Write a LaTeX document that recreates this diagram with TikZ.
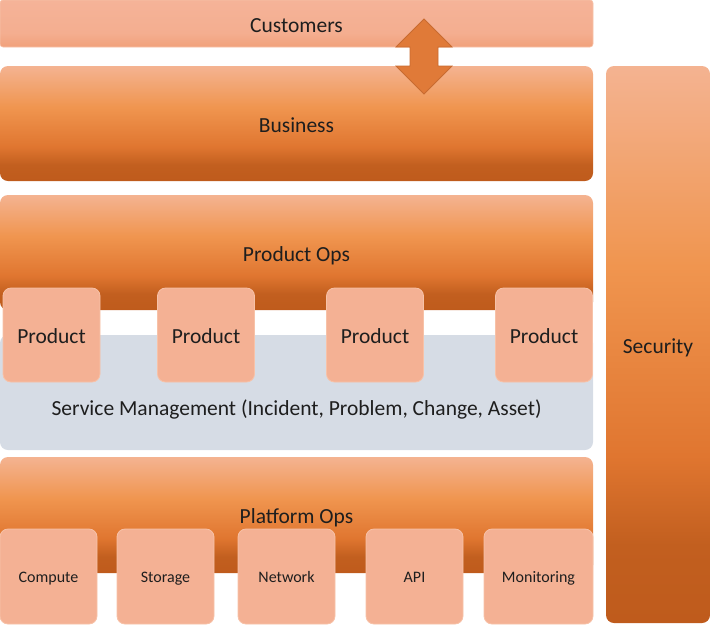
\documentclass[tikz,border=0pt]{standalone}
\usepackage{fontspec}
\setmainfont{Carlito}
\definecolor{otop}{HTML}{F4B391}
\definecolor{omid}{HTML}{F0954F}
\definecolor{omid2}{HTML}{E07630}
\definecolor{odark}{HTML}{C25F1F}
\definecolor{obot}{HTML}{BF5B1C}
\definecolor{ctop}{HTML}{F5B398}
\definecolor{cmid}{HTML}{F4AE90}
\definecolor{cbot}{HTML}{F1A17B}
\definecolor{boxfill}{HTML}{F4B194}
\definecolor{boxline}{HTML}{F7C2A8}
\definecolor{svcfill}{HTML}{D6DCE5}
\definecolor{arrfill}{HTML}{E07A38}
\definecolor{arrline}{HTML}{C86B30}
\definecolor{txt}{HTML}{1E1E1E}
\pgfdeclareverticalshading{orangebar}{100bp}{color(0bp)=(obot); color(25bp)=(obot); color(32bp)=(odark); color(40bp)=(omid2); color(57bp)=(omid); color(75bp)=(otop); color(100bp)=(otop)}
\pgfdeclareverticalshading{custbar}{100bp}{color(0bp)=(cbot); color(25bp)=(cbot); color(40bp)=(cmid); color(75bp)=(ctop); color(100bp)=(ctop)}
\tikzset{
  bigtext/.style={font=\fontsize{21.5}{24}\selectfont, text=txt, text height=17.5pt, text depth=0pt},
  smalltext/.style={font=\fontsize{16}{19}\selectfont, text=txt, text height=12.5pt, text depth=0pt},
  bar/.style={rectangle, rounded corners=8pt, shading=orangebar, inner sep=0pt, bigtext},
  custbox/.style={rectangle, rounded corners=3pt, shading=custbar, draw=boxline, line width=0.6pt, inner sep=0pt, bigtext},
  prodbox/.style={rectangle, rounded corners=8pt, fill=boxfill, draw=boxline, line width=0.8pt, inner sep=0pt, minimum width=97pt, minimum height=94pt, bigtext},
  platbox/.style={rectangle, rounded corners=8pt, fill=boxfill, draw=boxline, line width=0.8pt, inner sep=0pt, minimum height=95pt, smalltext},
  svcbox/.style={rectangle, rounded corners=8pt, fill=svcfill, inner sep=0pt},
  dblarrow/.style={fill=arrfill, draw=arrline, line width=0.8pt, line join=miter}
}
\begin{document}
\begin{tikzpicture}[x=1pt, y=-1pt]
\useasboundingbox (0,0) rectangle (711,625);
% Customers and Business
\node[custbox, minimum width=593pt, minimum height=47pt] (cust) at (296.5,23.5) {Customers};
\node[bar, minimum width=593pt, minimum height=115pt] (bus) at (296.5,123.5) {Business};
% double arrow between customers and business
\coordinate (ac) at (424,56.5);
\draw[dblarrow] ([yshift=37.5pt]ac) -- ++(28,28) -- ++(-14,0) -- ++(0,19) -- ++(14,0)
  -- ++(-28,28) -- ++(-28,-28) -- ++(14,0) -- ++(0,-19) -- ++(-14,0) -- cycle;
% Product Ops
\node[bar, minimum width=593pt, minimum height=115pt] (pops) at (296.5,252.5) {};
\node[bigtext] (popstext) at (296.5,253) {Product Ops};
% Service management
\node[svcbox, minimum width=593pt, minimum height=115pt] (svc) at (296.5,392.5) {};
\node[bigtext] (svctext) at (296.5,407) {Service Management (Incident, Problem, Change, Asset)};
% Products
\node[prodbox] (p1) at (51.5,335) {Product};
\node[prodbox] (p2) at (206,335) {Product};
\node[prodbox] (p3) at (375,335) {Product};
\node[prodbox] (p4) at (544,335) {Product};
% Platform Ops
\node[bar, minimum width=593pt, minimum height=116pt] (plat) at (296.5,515) {};
\node[bigtext] (plattext) at (296.5,515) {Platform Ops};
\node[platbox, minimum width=97pt] (c1) at (48.5,576.5) {Compute};
\node[platbox, minimum width=97pt] (c2) at (165.5,576.5) {Storage};
\node[platbox, minimum width=97pt] (c3) at (286.5,576.5) {Network};
\node[platbox, minimum width=97pt] (c4) at (414.5,576.5) {API};
\node[platbox, minimum width=109pt] (c5) at (538.5,576.5) {Monitoring};
% Security
\node[bar, minimum width=104pt, minimum height=557pt] (sec) at (658,344.5) {Security};
\end{tikzpicture}
\end{document}
